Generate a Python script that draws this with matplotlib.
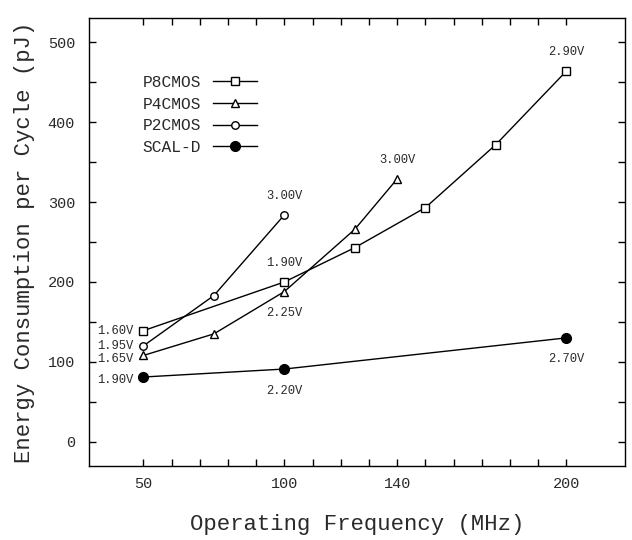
import matplotlib
matplotlib.use("Agg")
import matplotlib.pyplot as plt
import numpy as np

plt.rcParams['font.family'] = ['Liberation Mono', 'DejaVu Sans Mono']

# data
freq_p8 = [50, 100, 125, 150, 175, 200]
energy_p8 = [139, 200, 243, 293, 372, 464]
freq_p4 = [50, 75, 100, 125, 140]
energy_p4 = [108, 135, 188, 266, 329]
freq_p2 = [50, 75, 100]
energy_p2 = [120, 183, 284]
freq_scal = [50, 100, 200]
energy_scal = [81, 91, 130]

x_tick_vals = [50, 100, 140, 200]
x_tick_labels = ['50', '100', '140', '200']
y_tick_vals = [0, 100, 200, 300, 400, 500]

# supply voltage labels: (series, point index, text)
volt_left = [('P8', 0, '1.60V'), ('P2', 0, '1.95V'), ('P4', 0, '1.65V'), ('SCAL', 0, '1.90V')]
volt_above = [('P8', 1, '1.90V'), ('P2', 2, '3.00V'), ('P4', 4, '3.00V'), ('P8', 5, '2.90V')]
volt_below = [('P4', 2, '2.25V'), ('SCAL', 1, '2.20V'), ('SCAL', 2, '2.70V')]

series = {
    'P8': (freq_p8, energy_p8),
    'P4': (freq_p4, energy_p4),
    'P2': (freq_p2, energy_p2),
    'SCAL': (freq_scal, energy_scal),
}

txt_col = '#2a2a2a'

fig = plt.figure(figsize=(6.32, 5.40), dpi=100)
ax = fig.add_axes([0.1408, 0.1376, 0.8482, 0.8285])

lw = 1.0
ax.plot(freq_p8, energy_p8, color='black', lw=lw, marker='s', ms=5.2,
        mfc='white', mec='black', mew=1.0, label='P8CMOS')
ax.plot(freq_p4, energy_p4, color='black', lw=lw, marker='^', ms=5.6,
        mfc='white', mec='black', mew=1.0, label='P4CMOS')
ax.plot(freq_p2, energy_p2, color='black', lw=lw, marker='o', ms=5.4,
        mfc='white', mec='black', mew=1.0, label='P2CMOS')
ax.plot(freq_scal, energy_scal, color='black', lw=lw, marker='o', ms=7.0,
        mfc='black', mec='black', label='SCAL-D')

ann_fs = 8.7
left_dy = {'1.60V': 0, '1.95V': 0, '1.65V': -2.4, '1.90V': -2}
for key, i, txt in volt_left:
    xs, ys = series[key]
    ax.annotate(txt, (xs[i], ys[i]), xytext=(-7.5, left_dy[txt]),
                textcoords='offset points', ha='right', va='center',
                fontsize=ann_fs, color=txt_col)
for key, i, txt in volt_above:
    xs, ys = series[key]
    ax.annotate(txt, (xs[i], ys[i]), xytext=(0, 13.5),
                textcoords='offset points', ha='center', va='center',
                fontsize=ann_fs, color=txt_col)
for key, i, txt in volt_below:
    xs, ys = series[key]
    ax.annotate(txt, (xs[i], ys[i]), xytext=(0, -15.5),
                textcoords='offset points', ha='center', va='center',
                fontsize=ann_fs, color=txt_col)

ax.set_xlim(30.7, 220.8)
ax.set_ylim(-30, 530)

ax.set_xticks(x_tick_vals)
ax.set_xticklabels(x_tick_labels)
ax.set_xticks(np.arange(50, 201, 10), minor=True)
ax.set_yticks(y_tick_vals)
ax.set_yticks(np.arange(0, 501, 50), minor=True)

ax.tick_params(which='both', direction='in', length=5, width=1.0,
               top=True, right=True, labelsize=11, labelcolor=txt_col)
ax.tick_params(axis='x', which='major', pad=8)
ax.tick_params(axis='y', which='major', pad=10)
for s in ax.spines.values():
    s.set_linewidth(1.0)

ax.set_xlabel('Operating Frequency (MHz)', fontsize=16, labelpad=17, color=txt_col)
ax.set_ylabel('Energy Consumption per Cycle (pJ)', fontsize=16, labelpad=9, color=txt_col)

leg = ax.legend(loc='upper left', bbox_to_anchor=(0.10, 0.874),
                frameon=False, markerfirst=False, fontsize=11.7,
                handlelength=2.7, handletextpad=0.75, labelspacing=0.42,
                borderpad=0, borderaxespad=0)
for t in leg.get_texts():
    t.set_color(txt_col)

fig.savefig('out.png', dpi=100)
